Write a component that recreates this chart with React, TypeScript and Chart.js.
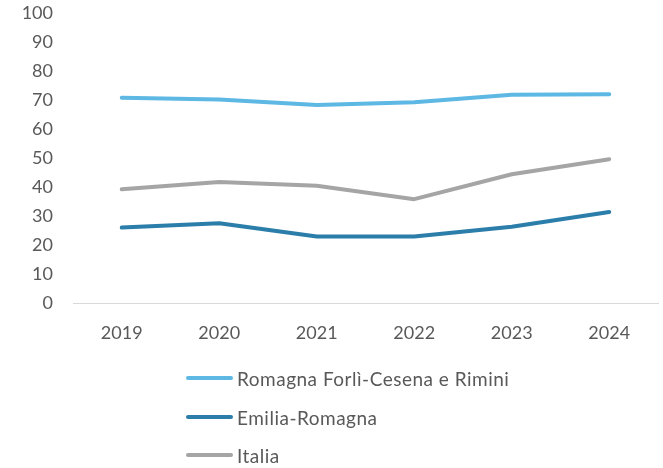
import React, { useEffect, useRef } from "react";
import { Chart, registerables } from "chart.js";

Chart.register(...registerables);

const years = ["2019", "2020", "2021", "2022", "2023", "2024"];
const romagnaValues = [70.8, 70.2, 68.3, 69.2, 71.8, 72.0];
const emiliaValues = [26.0, 27.5, 22.9, 22.9, 26.3, 31.4];
const italiaValues = [39.2, 41.7, 40.4, 35.8, 44.4, 49.6];
const seriesNames = ["Romagna Forlì-Cesena e Rimini", "Emilia-Romagna", "Italia"];
const seriesColors = ["#5DB8E3", "#2B7DAA", "#A5A5A5"];

const FONT = "Lato, 'Open Sans', sans-serif";
const TEXT = "#595959";

export default function App() {
  const ref = useRef<HTMLCanvasElement | null>(null);

  useEffect(() => {
    document.body.style.margin = "0";
    const ctx = ref.current;
    if (!ctx) return;
    const all = [romagnaValues, emiliaValues, italiaValues];
    const chart = new Chart(ctx, {
      type: "line",
      data: {
        labels: years,
        datasets: all.map((d, i) => ({
          label: seriesNames[i],
          data: d,
          borderColor: seriesColors[i],
          backgroundColor: seriesColors[i],
          borderWidth: 4,
          borderCapStyle: "round",
          borderJoinStyle: "round",
          pointRadius: 0,
          tension: 0,
          fill: false,
        })),
      },
      options: {
        animation: false,
        responsive: false,
        maintainAspectRatio: false,
        layout: { padding: { top: 13, right: 5, left: 0, bottom: 115 } },
        plugins: { legend: { display: false }, tooltip: { enabled: false } },
        scales: {
          x: {
            offset: true,
            grid: { display: false, drawTicks: false },
            border: { display: true, color: "#D9D9D9", width: 1 },
            ticks: { color: TEXT, font: { family: FONT, size: 18 }, padding: 19, maxRotation: 0 },
            afterFit: (s: any) => { s.height = 50; },
          },
          y: {
            min: 0,
            max: 100,
            grid: { display: false, drawTicks: false },
            border: { display: false },
            ticks: { stepSize: 10, color: TEXT, font: { family: FONT, size: 18 }, padding: 20 },
            afterFit: (s: any) => { s.width = 73; s.paddingTop = 0; },
          },
        },
      },
    });
    return () => chart.destroy();
  }, []);

  const rowTops = [378, 417, 455];
  return (
    <div style={{ position: "relative", width: 663, height: 468, background: "#fff" }}>
      <canvas ref={ref} width={663} height={468} style={{ width: 663, height: 468, display: "block" }} />
      {seriesNames.map((n, i) => (
        <div
          key={n}
          style={{
            position: "absolute",
            left: 186,
            top: rowTops[i] - 12,
            height: 24,
            display: "flex",
            alignItems: "center",
            fontFamily: FONT,
            fontSize: 19,
            letterSpacing: 0.5,
            color: TEXT,
            whiteSpace: "nowrap",
          }}
        >
          <span style={{ display: "inline-block", width: 47, height: 4, borderRadius: 2, background: seriesColors[i], marginRight: 4 }} />
          <span>{n}</span>
        </div>
      ))}
    </div>
  );
}
